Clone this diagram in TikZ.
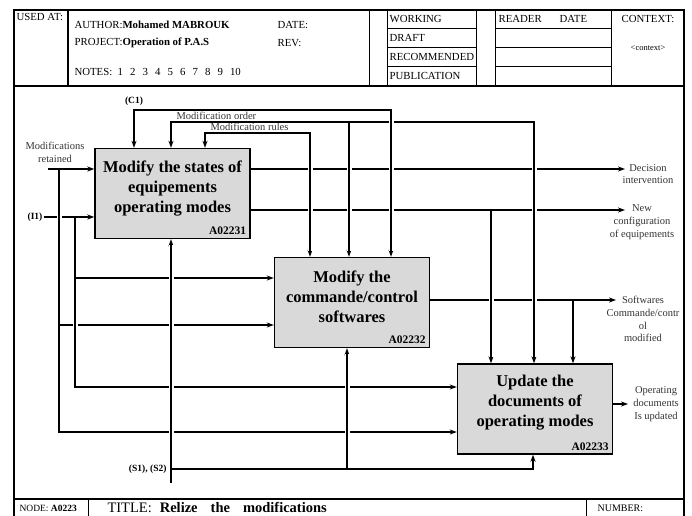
\documentclass[tikz,border=0pt]{standalone}
\usepackage{fontspec}
\setmainfont{Liberation Serif}
\usetikzlibrary{arrows.meta, positioning}

\begin{document}
\begin{tikzpicture}[>={Stealth[length=7pt,width=5pt]}, line width=1.1pt,
    x=1pt, y=-1pt,
    box/.style={draw, fill=gray!30, line width=1.4pt,
                minimum width=155pt, minimum height=90pt},
    title/.style={font=\fontsize{16.5}{20}\selectfont\bfseries, align=center},
    code/.style={font=\fontsize{11.5}{12}\selectfont\bfseries,
                 anchor=south east, inner sep=4pt},
    lbl/.style={font=\fontsize{10.5}{12.8}\selectfont, text=black!80,
                align=center, inner sep=1pt},
    tag/.style={font=\fontsize{9.5}{10}\selectfont\bfseries, inner sep=1pt},
    hdr/.style={font=\fontsize{10.8}{12}\selectfont, anchor=west, inner sep=0pt},
    rim/.style={line width=1.6pt},
    cell/.style={line width=1pt}]
  \useasboundingbox (0,0) rectangle (692,515);

  % form frame
  \draw[rim] (14,10) rectangle (684,530);
  \draw[rim] (14,86) -- (684,86);
  \draw[rim] (14,499) -- (684,499);
  \draw[rim] (68,10) -- (68,86);
  \foreach \x in {369,387,476,495,611}
    \draw[cell] (\x,10) -- (\x,86);
  \foreach \y in {28,47,66} {
    \draw[cell] (387,\y) -- (476,\y);
    \draw[cell] (495,\y) -- (611,\y);
  }
  \draw[cell] (88,499) -- (88,520);
  \draw[cell] (586,499) -- (586,520);

  % header texts
  \node[hdr] (usedat) at (16,17) {USED AT:};
  \node[hdr] (author) at (74,25) {AUTHOR:\textbf{Mohamed MABROUK}};
  \node[hdr] (project) at (74,43) {PROJECT:\textbf{Operation of P.A.S}};
  \node[hdr] (notes) at (74,72) {NOTES:};
  \foreach \n in {1,...,10}
    \node[hdr] (note\n) at ({104.5+12.5*\n},72) {\n};
  \node[hdr] (date) at (277,25) {DATE:};
  \node[hdr] (rev) at (277,43) {REV:};
  \foreach \t [count=\i] in {WORKING, DRAFT, RECOMMENDED, PUBLICATION}
    \node[hdr] (stat\i) at (389,{19*\i}) {\t};
  \node[hdr] (reader) at (498,19) {READER};
  \node[hdr] (rdate) at (559,19) {DATE};
  \node[hdr, anchor=center] (context) at (648,19) {CONTEXT:};
  \node[hdr, anchor=center, font=\fontsize{8.5}{9}\selectfont] (ctxval)
    at (648,48) {<context>};

  % footer texts
  \node[hdr, font=\fontsize{9.5}{10}\selectfont] (nodeno) at (19,508)
    {NODE: \textbf{A0223}};
  \node[hdr, anchor=base west, font=\fontsize{14.5}{15}\selectfont] (ftitle)
    at (107,512.5)
    {TITLE:\hspace{8pt}\textbf{Relize\hspace{13pt}the\hspace{13pt}modifications}};
  \node[hdr, font=\fontsize{10}{11}\selectfont] (number) at (597,508) {NUMBER:};

  % activity boxes
  \node[box] (b1) at (172.5,193.5) {};
  \node[title] (b1t) at (172.5,189) {Modify the states of\\equipements\\operating modes};
  \node[code] (b1c) at (b1.south east) {A02231};
  \node[box] (b2) at (352,302.5) {};
  \node[title] (b2t) at (352,297) {Modify the\\commande/control\\softwares};
  \node[code] (b2c) at (b2.south east) {A02232};
  \node[box] (b3) at (535,409) {};
  \node[title] (b3t) at (535,403) {Update the\\documents of\\operating modes};
  \node[code] (b3c) at (b3.south east) {A02233};

  % labels
  \node[lbl] (retained) at (55,152) {Modifications\\retained};
  \node[tag] (i1) at (35,217) {(I1)};
  \node[tag] (c1) at (134,101) {(C1)};
  \node[lbl, anchor=south west] (order) at (175,121) {Modification order};
  \node[lbl, anchor=south west] (rules) at (209,132) {Modification rules};
  \node[lbl] (decision) at (648,174) {Decision\\intervention};
  \node[lbl] (newconf) at (642,222) {New\\configuration\\of equipements};
  \node[lbl] (softw) at (643,319) {Softwares\\Commande/contr\\ol\\modified};
  \node[lbl] (opdocs) at (656,404) {Operating\\documents\\Is updated};
  \node[tag, anchor=east] (s1s2) at (168,469) {(S1), (S2)};

  % connector ends and junctions
  \coordinate (retin) at (48,169);
  \coordinate (retdn) at (59,169);
  \coordinate (in2) at (59,325);
  \coordinate (in4) at (59,432);
  \coordinate (i1dn) at (75,217);
  \coordinate (in1) at (75,278);
  \coordinate (in3) at (75,387);
  \coordinate (c1r) at (391,110);
  \coordinate (ordl) at (171,122);
  \coordinate (ordm) at (349,122);
  \coordinate (ordr) at (534,122);
  \coordinate (rull) at (205,133);
  \coordinate (rulr) at (310,133);
  \coordinate (dec) at (625,169);
  \coordinate (newc) at (625,210);
  \coordinate (newdn) at (491,210);
  \coordinate (soft) at (616,300);
  \coordinate (softdn) at (573,300);
  \coordinate (opdoc) at (628,404);
  \coordinate (mech) at (171,483);
  \coordinate (mechj) at (171,469);
  \coordinate (mechm) at (347,469);
  \coordinate (mechr) at (533,469);

  % inputs
  \draw[->] (retin) -- (b1.west |- retin);
  \draw[->] (i1.east) -- (b1.west |- i1);
  \draw[->] (retdn) -- (in4) -- (b3.west |- in4);
  \draw[->] (in2) -- (b2.west |- in2);
  \draw[->] (i1dn) -- (in3) -- (b3.west |- in3);
  \draw[->] (in1) -- (b2.west |- in1);

  % controls
  \draw[<->] (b1.north -| c1) |- (c1r) -- (b2.north -| c1r);
  \draw[<->] (b1.north -| ordl) -- (ordl) -- (ordr) -- (b3.north -| ordr);
  \draw[->] (ordm) -- (b2.north -| ordm);
  \draw[<->] (b1.north -| rull) -- (rull) -- (rulr) -- (b2.north -| rulr);

  % outputs
  \draw[->] (b1.east |- dec) -- (dec);
  \draw[->] (b1.east |- newc) -- (newc);
  \draw[->] (newdn) -- (b3.north -| newdn);
  \draw[->] (b2.east |- soft) -- (soft);
  \draw[->] (softdn) -- (b3.north -| softdn);
  \draw[->] (b3.east |- opdoc) -- (opdoc);

  % mechanisms
  \draw[->] (mech) -- (b1.south -| mech);
  \draw[->] (mechj) -- (mechr) -- (b3.south -| mechr);
  \draw[->] (mechm) -- (b2.south -| mechm);

  % gaps where vertical lines cross
  \foreach \p/\q in {rulr/b2.north -| rulr, ordm/b2.north -| ordm,
                     c1r/b2.north -| c1r, ordr/b3.north -| ordr,
                     newdn/b3.north -| newdn, retdn/in2, in1/in3,
                     mechj/b1.south -| mechj, mechm/b2.south -| mechm} {
    \draw[white, line width=5pt, shorten <=6pt, shorten >=6pt] (\p) -- (\q);
    \draw[shorten <=5pt, shorten >=5pt] (\p) -- (\q);
  }
\end{tikzpicture}
\end{document}
